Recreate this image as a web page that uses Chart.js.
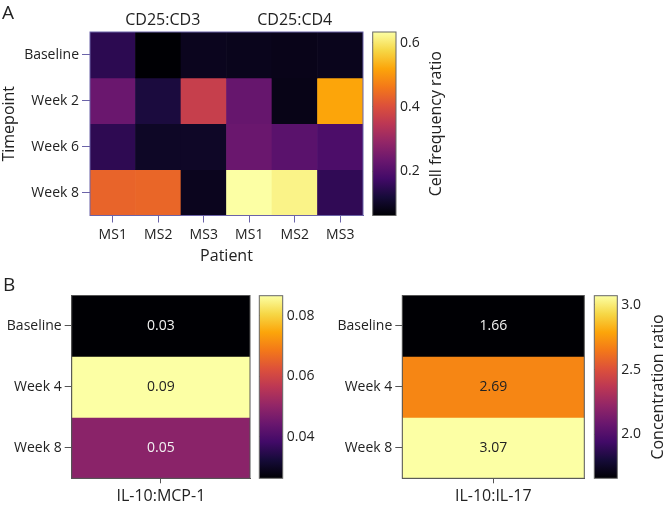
<!DOCTYPE html>
<html>
<head>
<meta charset="utf-8">
<script src="https://cdn.jsdelivr.net/npm/chart.js@4.4.1/dist/chart.umd.min.js"></script>
<style>
  body { margin: 0; background: #fff; }
  #wrap { position: relative; width: 666px; height: 505px; overflow: hidden; font-family: 'Open Sans', sans-serif; color: #222; }
  #wrap canvas { position: absolute; }
  .panel { position: absolute; font-size: 19px; line-height: 20px; }
</style>
</head>
<body>
<div id="wrap">
  <canvas id="heatA" width="368" height="270" style="left:0;top:0"></canvas>
  <canvas id="barA" width="100" height="270" style="left:366px;top:0"></canvas>
  <canvas id="heatB1" width="252" height="225" style="left:0;top:280px"></canvas>
  <canvas id="barB1" width="80" height="225" style="left:252px;top:280px"></canvas>
  <canvas id="heatB2" width="256" height="225" style="left:330px;top:280px"></canvas>
  <canvas id="barB2" width="80" height="225" style="left:586px;top:280px"></canvas>
  <div class="panel" style="left:2px;top:2px">A</div>
  <div class="panel" style="left:3px;top:274px">B</div>
</div>
<script>
// panel A: CD25 cell frequency ratios, one array per timepoint (row)
const timepointsA = ['Baseline', 'Week 2', 'Week 6', 'Week 8'];
const patients = ['MS1', 'MS2', 'MS3', 'MS1', 'MS2', 'MS3'];
const markerGroups = ['CD25:CD3', 'CD25:CD4'];
const baselineA = [0.148, 0.062, 0.090, 0.088, 0.085, 0.088];
const week2A = [0.233, 0.125, 0.365, 0.228, 0.082, 0.519];
const week6A = [0.150, 0.099, 0.100, 0.233, 0.210, 0.190];
const week8A = [0.433, 0.435, 0.090, 0.633, 0.616, 0.153];
const freqTicks = [0.2, 0.4, 0.6];

// panel B: cytokine concentration ratios
const timepointsB = ['Baseline', 'Week 4', 'Week 8'];
const mcp1Ratio = [0.0262, 0.0867, 0.049];
const il17Ratio = [1.66, 2.69, 3.07];
const mcp1Ticks = [0.04, 0.06, 0.08];
const il17Ticks = [2.0, 2.5, 3.0];

Chart.defaults.font.family = "'Open Sans', sans-serif";
Chart.defaults.font.size = 14;
Chart.defaults.color = '#222';

// inferno colormap
const infernoStops = ['#000004', '#160b39', '#420a68', '#6a176e', '#932667', '#bc3754',
  '#dd513a', '#f37819', '#fca50a', '#f6d746', '#fcffa4'];

function hexRgb(h) {
  return [parseInt(h.slice(1, 3), 16), parseInt(h.slice(3, 5), 16), parseInt(h.slice(5, 7), 16)];
}

function inferno(t) {
  t = Math.max(0, Math.min(1, t));
  const n = infernoStops.length - 1;
  const i = Math.min(Math.floor(t * n), n - 1);
  const f = t * n - i;
  const a = hexRgb(infernoStops[i]), b = hexRgb(infernoStops[i + 1]);
  const c = a.map((v, k) => Math.round(v + (b[k] - v) * f));
  return 'rgb(' + c.join(',') + ')';
}

const framePlugin = {
  id: 'frame',
  afterDatasetsDraw(chart, args, opts) {
    const a = chart.chartArea, ctx = chart.ctx;
    ctx.save();
    ctx.strokeStyle = opts.color || '#555';
    ctx.lineWidth = 1;
    ctx.strokeRect(a.left, a.top, a.right - a.left, a.bottom - a.top);
    ctx.restore();
  }
};

// value labels inside panel B cells
const cellTextPlugin = {
  id: 'cellText',
  afterDatasetsDraw(chart, args, opts) {
    if (!opts.show) return;
    const ctx = chart.ctx;
    ctx.save();
    ctx.font = "14px 'Open Sans'";
    ctx.textAlign = 'center';
    ctx.textBaseline = 'middle';
    chart.data.datasets.forEach((ds, i) => {
      chart.getDatasetMeta(i).data.forEach((bar, j) => {
        const v = ds.values[j];
        const t = (v - opts.lo) / (opts.hi - opts.lo);
        ctx.fillStyle = t > 0.6 ? '#222' : '#f2f2f2';
        ctx.fillText(v.toFixed(2), bar.x, (bar.y + bar.base) / 2);
      });
    });
    ctx.restore();
  }
};

const cbTitlePlugin = {
  id: 'cbTitle',
  afterDraw(chart, args, opts) {
    if (!opts.text) return;
    const a = chart.chartArea, ctx = chart.ctx;
    ctx.save();
    ctx.translate(a.right + opts.dx, (a.top + a.bottom) / 2);
    ctx.rotate(-Math.PI / 2);
    ctx.font = "16px 'Open Sans'";
    ctx.fillStyle = '#222';
    ctx.textAlign = 'center';
    ctx.textBaseline = 'middle';
    ctx.fillText(opts.text, 0, 0);
    ctx.restore();
  }
};

function makeHeatmap(id, cols, rowNames, rows, o) {
  const all = rows.flat();
  const lo = Math.min(...all), hi = Math.max(...all);
  const datasets = rows.map(vals => ({
    data: vals.map(() => 1),
    values: vals,
    backgroundColor: vals.map(v => inferno((v - lo) / (hi - lo))),
    borderWidth: 0,
    barPercentage: 1,
    categoryPercentage: 1
  }));
  const scales = {
    x: {
      stacked: true,
      grid: { drawOnChartArea: false, offset: false, color: o.line, tickLength: o.xTick },
      border: { color: o.line },
      ticks: { padding: o.xPad, font: { size: o.xFont }, maxRotation: 0 },
      title: { display: !!o.xTitle, text: o.xTitle, font: { size: 16 }, padding: { top: 0, bottom: 4 } },
      afterFit: s => { s.height = o.xH; }
    },
    y: {
      stacked: true,
      reverse: true,
      min: 0,
      max: rows.length,
      afterBuildTicks: s => { s.ticks = rowNames.map((_, i) => ({ value: i + 0.5 })); },
      ticks: { callback: v => rowNames[Math.floor(v)], padding: o.yPad },
      grid: { drawOnChartArea: false, color: o.line, tickLength: o.yTick },
      border: { color: o.line },
      title: { display: !!o.yTitle, text: o.yTitle, font: { size: 16 }, padding: 0 },
      afterFit: s => { s.width = o.yW; }
    }
  };
  if (o.groups) {
    // group labels above the columns
    scales.xt = {
      type: 'linear',
      position: 'top',
      offset: false,
      min: -0.5,
      max: cols.length - 0.5,
      afterBuildTicks: s => { s.ticks = o.groupAt.map(v => ({ value: v })); },
      ticks: { callback: (v, i) => o.groups[i], font: { size: 16 }, padding: 2 },
      grid: { display: false, drawTicks: false, offset: false },
      border: { display: false },
      afterFit: s => { s.height = o.topH; }
    };
  }
  return new Chart(document.getElementById(id), {
    type: 'bar',
    data: { labels: cols, datasets: datasets },
    options: {
      responsive: false,
      animation: false,
      events: [],
      layout: { padding: o.pad },
      plugins: {
        legend: { display: false },
        tooltip: { enabled: false },
        frame: { color: o.line },
        cellText: { show: !!o.cellText, lo: lo, hi: hi }
      },
      scales: scales
    },
    plugins: [framePlugin, cellTextPlugin]
  });
}

function makeColorbar(id, values, tickVals, decimals, o) {
  const lo = Math.min(...values), hi = Math.max(...values);
  return new Chart(document.getElementById(id), {
    type: 'bar',
    data: {
      labels: [''],
      datasets: [{
        data: [[lo, hi]],
        backgroundColor: ctx => {
          const a = ctx.chart.chartArea;
          if (!a) return '#000';
          const g = ctx.chart.ctx.createLinearGradient(0, a.bottom, 0, a.top);
          infernoStops.forEach((c, i) => g.addColorStop(i / (infernoStops.length - 1), c));
          return g;
        },
        borderWidth: 0,
        barPercentage: 1,
        categoryPercentage: 1
      }]
    },
    options: {
      responsive: false,
      animation: false,
      events: [],
      layout: { padding: o.pad },
      plugins: {
        legend: { display: false },
        tooltip: { enabled: false },
        frame: { color: '#666' },
        cbTitle: { text: o.title, dx: 40.7 }
      },
      scales: {
        x: { display: false },
        y: {
          position: 'right',
          min: lo,
          max: hi,
          z: 1,
          afterBuildTicks: s => { s.ticks = tickVals.map(v => ({ value: v })); },
          ticks: { callback: v => v.toFixed(decimals), padding: 4 },
          grid: { drawTicks: false, color: '#333' },
          border: { display: false, dash: [3, 17.2] },
          afterFit: s => { s.width = o.w; }
        }
      }
    },
    plugins: [framePlugin, cbTitlePlugin]
  });
}

makeHeatmap('heatA', patients, timepointsA, [baselineA, week2A, week6A, week8A], {
  line: '#6b63a8', xTick: 7, yTick: 8, xPad: 4, yPad: 3, xFont: 14,
  xH: 54.5, yW: 90, topH: 32, pad: { right: 5 },
  xTitle: 'Patient', yTitle: 'Timepoint',
  groups: markerGroups, groupAt: [1.1, 4]
});
makeColorbar('barA', [...baselineA, ...week2A, ...week6A, ...week8A], freqTicks, 1, {
  pad: { left: 6.7, top: 32, bottom: 54.5 }, w: 70, title: 'Cell frequency ratio'
});

makeHeatmap('heatB1', ['IL-10:MCP-1'], timepointsB, mcp1Ratio.map(v => [v]), {
  line: '#555', xTick: 5, yTick: 7, xPad: 4, yPad: 3, xFont: 16,
  xH: 26.7, yW: 71.7, pad: { top: 15.5, right: 2 }, cellText: true
});
makeColorbar('barB1', mcp1Ratio, mcp1Ticks, 2, {
  pad: { left: 7.3, top: 15.7, bottom: 26.7 }, w: 49.3, title: ''
});

makeHeatmap('heatB2', ['IL-10:IL-17'], timepointsB, il17Ratio.map(v => [v]), {
  line: '#555', xTick: 5, yTick: 7, xPad: 4, yPad: 3, xFont: 16,
  xH: 26.7, yW: 72.3, pad: { top: 15.5, right: 1.7 }, cellText: true
});
makeColorbar('barB2', il17Ratio, il17Ticks, 1, {
  pad: { left: 8.3, top: 15.7, bottom: 26.7 }, w: 48.7, title: 'Concentration ratio'
});
</script>
</body>
</html>
